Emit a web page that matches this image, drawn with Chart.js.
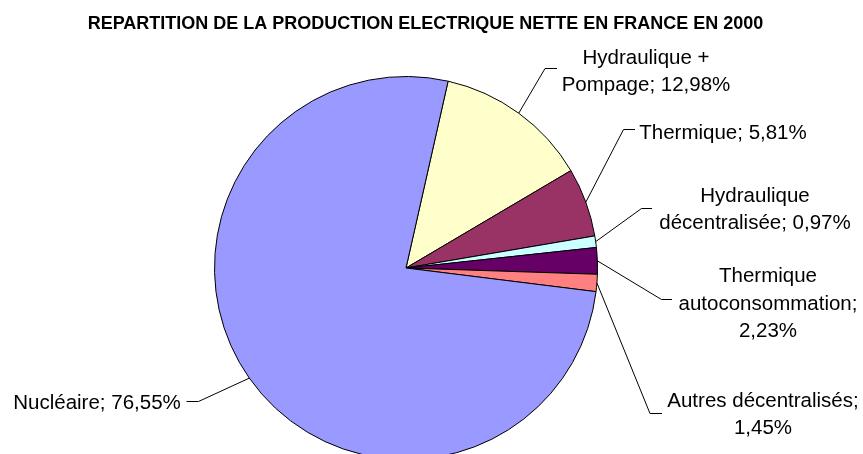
<!DOCTYPE html>
<html>
<head>
<meta charset="utf-8">
<script src="https://cdn.jsdelivr.net/npm/chart.js@4.4.1/dist/chart.umd.min.js"></script>
<style>
html, body { margin: 0; padding: 0; overflow: hidden; background: #fff; }
canvas { display: block; }
</style>
</head>
<body>
<canvas id="repartition" width="863" height="480"></canvas>
<script>
var chartTitle = "REPARTITION DE LA PRODUCTION ELECTRIQUE NETTE EN FRANCE EN 2000";
var categories = ["Hydraulique + Pompage", "Thermique", "Hydraulique décentralisée",
                  "Thermique autoconsommation", "Autres décentralisés", "Nucléaire"];
var shares = [12.98, 5.81, 0.97, 2.23, 1.45, 76.55];
var sliceColors = ["#FFFFCC", "#993366", "#CCFFFF", "#660066", "#FF8080", "#9999FF"];

// label boxes: bend/end of the leader line, text centre x, first baseline
var labelLayout = [
	{ bend: [545, 68.5], end: [557, 68.5], cx: 646, y: 63.5 },
	{ bend: [623.5, 129.5], end: [635, 129.5], cx: 723, y: 138.5 },
	{ bend: [641.5, 208.5], end: [652, 208.5], cx: 755, y: 201.5 },
	{ bend: [661.5, 299.5], end: [672, 299.5], cx: 768, y: 282 },
	{ bend: [650, 413.5], end: [662, 413.5], cx: 763, y: 406.5 },
	{ bend: [198.5, 401.5], end: [186.5, 401.5], cx: 97, y: 408.5 }
];
var labelFont = '20.5px "Liberation Sans", Arial, sans-serif';
var lineHeight = 27.5;

function formatShare(v) {
	return v.toFixed(2).replace('.', ',') + '%';
}

function wrapText(ctx, text, maxW) {
	var words = text.split(' ');
	var lines = [];
	var cur = '';
	for (var i = 0; i < words.length; i++) {
		var test = cur ? cur + ' ' + words[i] : words[i];
		if (cur && ctx.measureText(test).width > maxW) {
			lines.push(cur);
			cur = words[i];
		} else {
			cur = test;
		}
	}
	lines.push(cur);
	return lines;
}

var titrePlugin = {
	id: 'titre',
	afterDraw: function(chart) {
		var ctx = chart.ctx;
		ctx.save();
		ctx.font = 'bold 18px "Liberation Sans", Arial, sans-serif';
		ctx.fillStyle = '#000';
		ctx.textAlign = 'center';
		ctx.textBaseline = 'alphabetic';
		ctx.fillText(chartTitle, 425.5, 29);
		ctx.restore();
	}
};

var etiquettesPlugin = {
	id: 'etiquettes',
	afterDraw: function(chart) {
		var ctx = chart.ctx;
		var meta = chart.getDatasetMeta(0);
		ctx.save();
		ctx.font = labelFont;
		ctx.fillStyle = '#000';
		ctx.strokeStyle = '#000';
		ctx.lineWidth = 1;
		ctx.textAlign = 'center';
		ctx.textBaseline = 'alphabetic';
		meta.data.forEach(function(arc, i) {
			var p = arc.getProps(['x', 'y', 'startAngle', 'endAngle', 'outerRadius'], true);
			var mid = (p.startAngle + p.endAngle) / 2;
			var sx = p.x + Math.cos(mid) * p.outerRadius;
			var sy = p.y + Math.sin(mid) * p.outerRadius;
			var L = labelLayout[i];
			ctx.beginPath();
			ctx.moveTo(sx, sy);
			ctx.lineTo(L.bend[0], L.bend[1]);
			ctx.lineTo(L.end[0], L.end[1]);
			ctx.stroke();
			var lines = wrapText(ctx, categories[i] + '; ' + formatShare(shares[i]), 200);
			lines.forEach(function(t, k) {
				ctx.fillText(t, L.cx, L.y + k * lineHeight);
			});
		});
		ctx.restore();
	}
};

var ctx = document.getElementById("repartition").getContext("2d");
var pieChart = new Chart(ctx, {
	type: 'pie',
	data: {
		labels: categories,
		datasets: [{
			data: shares,
			backgroundColor: sliceColors,
			borderColor: "#000",
			borderWidth: 1
		}]
	},
	options: {
		responsive: false,
		animation: false,
		rotation: 12.7,
		layout: { padding: { left: 214, right: 265, top: 76, bottom: 20 } },
		plugins: {
			legend: { display: false },
			tooltip: { enabled: false },
			title: { display: false }
		}
	},
	plugins: [titrePlugin, etiquettesPlugin]
});
</script>
</body>
</html>
